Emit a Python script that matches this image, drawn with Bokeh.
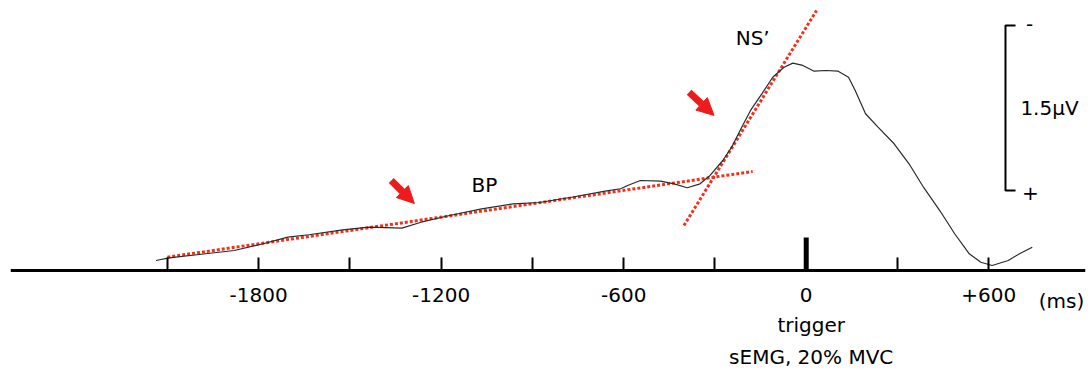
from bokeh.plotting import figure
from bokeh.models import Range1d, FixedTicker, Label, Arrow, NormalHead, LinearAxis
from bokeh.embed import file_html
from bokeh.resources import INLINE

# ---- data ----
# averaged EEG waveform, time in ms relative to trigger, amplitude in microvolts (negative up)
time_ms = [-2137, -2094, -1974, -1880, -1785, -1704, -1635, -1524, -1437, -1329,
           -1266, -1172, -1067, -963, -877, -771, -661, -610, -587, -545,
           -479, -434, -391, -349, -316, -274, -245, -212, -183, -146,
           -110, -73, -44, -11, 26, 64, 105, 139, 161, 195,
           236, 289, 338, 386, 439, 488, 536, 574, 611, 664,
           701, 743]
amp_uv = [-0.091, -0.114, -0.152, -0.182, -0.243, -0.303, -0.325, -0.370, -0.394, -0.385,
          -0.439, -0.500, -0.561, -0.606, -0.618, -0.666, -0.721, -0.743, -0.773, -0.818,
          -0.812, -0.788, -0.752, -0.788, -0.864, -1.000, -1.121, -1.303, -1.455, -1.606,
          -1.757, -1.848, -1.885, -1.864, -1.812, -1.818, -1.812, -1.757, -1.636, -1.425,
          -1.303, -1.152, -0.970, -0.755, -0.545, -0.334, -0.152, -0.075, -0.045, -0.091,
          -0.152, -0.212]

# fitted slopes (BP and NS')
bp_fit_ms = [-2100, -176]
bp_fit_uv = [-0.121, -0.900]
ns_fit_ms = [-402, 34]
ns_fit_uv = [-0.409, -2.364]

# arrows marking the onsets: (start_ms, start_uv, end_ms, end_uv)
arrow_bp = [-1364, -0.818, -1288, -0.609]
arrow_ns = [-385, -1.620, -303, -1.410]

tick_ms = [-2100, -1800, -1500, -1200, -900, -600, -300, 0, 300, 600]
tick_labels = ["", "-1800", "", "-1200", "", "-600", "", "0", "", "+600"]

trigger_ms = 0
trigger_mark_uv = -0.30
scale_bar_uv = 1.5

FONT = "DejaVu Sans"
RED_DOT = "#f3301c"
RED = "#ee1b1b"

p = figure(width=1088, height=369, output_backend="svg", toolbar_location=None,
           x_range=Range1d(-2615.5, 918), y_range=Range1d(0.9, -2.4545),
           x_axis_location=None, y_axis_location=None,
           min_border_left=10, min_border_right=3, min_border_top=0, min_border_bottom=0)
p.outline_line_color = None
p.grid.visible = False
p.background_fill_color = "white"
p.border_fill_color = "white"

# time axis drawn at the 0 uV baseline
ax = LinearAxis(fixed_location=0)
ax.ticker = FixedTicker(ticks=tick_ms, minor_ticks=[])
ax.major_label_overrides = {t: l for t, l in zip(tick_ms, tick_labels)}
ax.major_tick_in = 13
ax.major_tick_out = 0
ax.major_tick_line_width = 2
ax.major_tick_line_color = "black"
ax.axis_line_width = 3
ax.axis_line_color = "black"
ax.minor_tick_line_color = None
ax.major_label_standoff = 18
ax.major_label_text_font = FONT
ax.major_label_text_font_size = "20px"
ax.major_label_text_color = "black"
p.add_layout(ax, "below")

# fitted dotted lines
p.line(bp_fit_ms, bp_fit_uv, line_color=RED_DOT, line_width=3, line_dash="3 2")
p.line(ns_fit_ms, ns_fit_uv, line_color=RED_DOT, line_width=3, line_dash="3 2")

# waveform
p.line(time_ms, amp_uv, line_color="#2a2a2a", line_width=1.2)

# trigger mark
p.segment(x0=[trigger_ms], y0=[0], x1=[trigger_ms], y1=[trigger_mark_uv],
          line_color="black", line_width=5)

# arrows
for a in (arrow_bp, arrow_ns):
    p.add_layout(Arrow(x_start=a[0], y_start=a[1], x_end=a[2], y_end=a[3],
                       line_color=RED, line_width=7,
                       end=NormalHead(size=17, fill_color=RED, line_color=RED)))

# scale bar (1.5 uV, negative up)
sb_x = 655
sb_top = -2.227
sb_bot = sb_top + scale_bar_uv
sb_tick = 33
p.line([sb_x + sb_tick, sb_x, sb_x, sb_x + sb_tick], [sb_top, sb_top, sb_bot, sb_bot],
       line_color="black", line_width=2)

def lab(x, y, text, align="center", dx=0):
    p.add_layout(Label(x=x, y=y, text=text, text_font=FONT, text_font_size="20px",
                       text_color="black", text_align=align, text_baseline="middle",
                       x_offset=dx))

lab(-1058, -0.773, "BP")
lab(-176, -2.118, "NS\u2019")
lab(704, -1.473, "1.5\u03bcV", align="left")
lab(734, -2.245, "-")
lab(737, -0.700, "+")
lab(839, 0.273, "(ms)")
lab(trigger_ms, 0.491, "trigger", dx=5)
lab(trigger_ms, 0.790, "sEMG, 20% MVC", dx=5)

open("out.html", "w").write(file_html(p, INLINE))
